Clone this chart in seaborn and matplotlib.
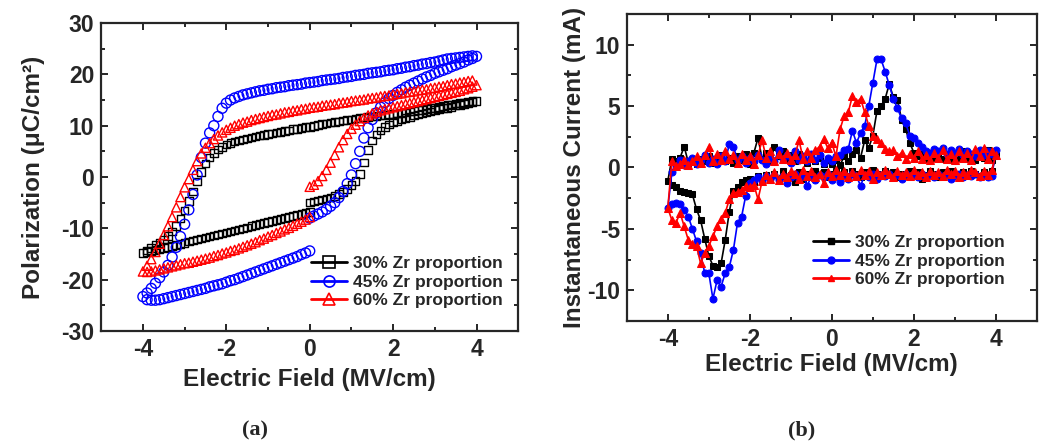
import seaborn as sns
import matplotlib.pyplot as plt
from matplotlib.lines import Line2D
from matplotlib.ticker import MultipleLocator

# barrido del campo electrico (MV/cm): 0 -> 4 -> -4 -> 0
e_up = [0.0, 0.1, 0.2, 0.3, 0.4, 0.5, 0.6, 0.7, 0.8, 0.9,
        1.0, 1.1, 1.2, 1.3, 1.4, 1.5, 1.6, 1.7, 1.8, 1.9,
        2.0, 2.1, 2.2, 2.3, 2.4, 2.5, 2.6, 2.7, 2.8, 2.9,
        3.0, 3.1, 3.2, 3.3, 3.4, 3.5, 3.6, 3.7, 3.8, 3.9,
        4.0]
e_down = [3.9, 3.8, 3.7, 3.6, 3.5, 3.4, 3.3, 3.2, 3.1, 3.0,
          2.9, 2.8, 2.7, 2.6, 2.5, 2.4, 2.3, 2.2, 2.1, 2.0,
          1.9, 1.8, 1.7, 1.6, 1.5, 1.4, 1.3, 1.2, 1.1, 1.0,
          0.9, 0.8, 0.7, 0.6, 0.5, 0.4, 0.3, 0.2, 0.1, 0.0,
          -0.1, -0.2, -0.3, -0.4, -0.5, -0.6, -0.7, -0.8, -0.9, -1.0,
          -1.1, -1.2, -1.3, -1.4, -1.5, -1.6, -1.7, -1.8, -1.9, -2.0,
          -2.1, -2.2, -2.3, -2.4, -2.5, -2.6, -2.7, -2.8, -2.9, -3.0,
          -3.1, -3.2, -3.3, -3.4, -3.5, -3.6, -3.7, -3.8, -3.9, -4.0]
e_back = [-3.9, -3.8, -3.7, -3.6, -3.5, -3.4, -3.3, -3.2, -3.1, -3.0,
          -2.9, -2.8, -2.7, -2.6, -2.5, -2.4, -2.3, -2.2, -2.1, -2.0,
          -1.9, -1.8, -1.7, -1.6, -1.5, -1.4, -1.3, -1.2, -1.1, -1.0,
          -0.9, -0.8, -0.7, -0.6, -0.5, -0.4, -0.3, -0.2, -0.1, 0.0]

# polarizacion (uC/cm2)
p30_up = [-5.0, -4.8, -4.6, -4.4, -4.2, -4.0, -3.7, -3.3, -2.9, -2.3,
          -1.6, -0.8, 0.6, 2.8, 5.3, 7.1, 8.3, 9.1, 9.7, 10.2,
          10.6, 10.9, 11.2, 11.5, 11.7, 12.0, 12.2, 12.4, 12.6, 12.8,
          13.0, 13.2, 13.4, 13.5, 13.7, 13.9, 14.0, 14.2, 14.4, 14.6,
          14.8]
p30_down = [14.8, 14.7, 14.5, 14.4, 14.3, 14.1, 14.0, 13.8, 13.7, 13.5,
            13.4, 13.3, 13.1, 13.0, 12.9, 12.8, 12.6, 12.5, 12.4, 12.3,
            12.2, 12.1, 12.0, 11.9, 11.8, 11.7, 11.6, 11.5, 11.4, 11.2,
            11.1, 11.0, 10.8, 10.7, 10.6, 10.4, 10.3, 10.1, 10.0, 9.8,
            9.7, 9.6, 9.4, 9.3, 9.1, 9.0, 8.8, 8.7, 8.5, 8.4,
            8.2, 8.1, 7.9, 7.7, 7.5, 7.3, 7.1, 6.9, 6.6, 6.3,
            5.9, 5.4, 4.7, 3.8, 2.6, 1.0, -0.9, -2.8, -4.7, -6.5,
            -8.1, -9.5, -10.6, -11.5, -12.2, -12.8, -13.3, -13.8, -14.3, -14.8]
p30_back = [-14.6, -14.4, -14.2, -14.0, -13.8, -13.6, -13.4, -13.2, -13.0, -12.8,
            -12.6, -12.4, -12.2, -12.0, -11.8, -11.6, -11.4, -11.2, -11.0, -10.8,
            -10.6, -10.4, -10.2, -10.0, -9.8, -9.6, -9.4, -9.2, -9.0, -8.8,
            -8.6, -8.4, -8.2, -8.0, -7.8, -7.6, -7.4, -7.2, -7.0, -6.8]

p45_up = [-8.0, -7.6, -7.2, -6.8, -6.3, -5.7, -5.0, -4.0, -2.8, -1.3,
          0.4, 2.6, 5.0, 7.6, 9.6, 11.2, 12.5, 13.6, 14.5, 15.3,
          15.9, 16.5, 17.0, 17.5, 17.9, 18.3, 18.7, 19.1, 19.5, 19.8,
          20.2, 20.5, 20.8, 21.1, 21.5, 21.8, 22.1, 22.4, 22.8, 23.1,
          23.5]
p45_down = [23.6, 23.5, 23.4, 23.3, 23.2, 23.1, 23.0, 22.8, 22.6, 22.4,
            22.3, 22.1, 22.0, 21.8, 21.7, 21.5, 21.4, 21.2, 21.1, 20.9,
            20.8, 20.7, 20.5, 20.4, 20.3, 20.2, 20.0, 19.9, 19.8, 19.6,
            19.5, 19.4, 19.2, 19.1, 19.0, 18.9, 18.8, 18.6, 18.5, 18.4,
            18.3, 18.1, 18.0, 17.9, 17.8, 17.6, 17.5, 17.4, 17.2, 17.1,
            16.9, 16.8, 16.6, 16.4, 16.2, 16.0, 15.7, 15.4, 15.0, 14.4,
            13.4, 11.8, 10.0, 8.6, 6.6, 3.8, 0.4, -3.4, -6.4, -9.2,
            -11.6, -13.7, -15.6, -17.2, -18.5, -19.6, -20.7, -21.7, -22.6, -23.3]
p45_back = [-23.9, -24.0, -24.0, -23.9, -23.7, -23.5, -23.3, -23.1, -22.9, -22.7,
            -22.5, -22.3, -22.1, -21.9, -21.7, -21.4, -21.2, -21.0, -20.8, -20.5,
            -20.2, -20.0, -19.7, -19.4, -19.1, -18.8, -18.5, -18.2, -17.9, -17.6,
            -17.3, -17.0, -16.7, -16.4, -16.1, -15.8, -15.5, -15.1, -14.8, -14.4]

p60_up = [-1.9, -1.5, -0.8, 0.2, 1.4, 2.8, 4.3, 5.8, 7.2, 8.4,
          9.4, 10.2, 10.9, 11.5, 12.0, 12.4, 12.7, 13.0, 13.2, 13.4,
          13.6, 13.8, 14.0, 14.2, 14.4, 14.6, 14.8, 15.0, 15.2, 15.4,
          15.6, 15.8, 16.0, 16.2, 16.4, 16.6, 16.8, 17.1, 17.3, 17.6,
          17.9]
p60_down = [18.8, 18.7, 18.5, 18.4, 18.2, 18.1, 17.9, 17.7, 17.6, 17.4,
            17.3, 17.1, 17.0, 16.9, 16.7, 16.6, 16.5, 16.3, 16.2, 16.1,
            15.9, 15.8, 15.7, 15.5, 15.4, 15.3, 15.1, 15.0, 14.9, 14.8,
            14.6, 14.5, 14.4, 14.2, 14.1, 14.0, 13.9, 13.7, 13.6, 13.5,
            13.3, 13.2, 13.0, 12.9, 12.7, 12.6, 12.4, 12.2, 12.1, 11.9,
            11.7, 11.5, 11.3, 11.1, 10.8, 10.6, 10.3, 10.0, 9.6, 9.2,
            8.7, 8.1, 7.4, 6.6, 5.7, 4.6, 3.1, 1.4, -0.4, -2.0,
            -3.9, -5.9, -7.8, -9.6, -11.3, -13.0, -14.6, -16.0, -17.3, -18.4]
p60_back = [-18.5, -18.4, -18.2, -18.0, -17.8, -17.6, -17.4, -17.2, -17.0, -16.8,
            -16.7, -16.5, -16.3, -16.1, -15.9, -15.7, -15.4, -15.2, -14.9, -14.7,
            -14.4, -14.2, -13.9, -13.6, -13.3, -13.0, -12.7, -12.3, -12.0, -11.6,
            -11.3, -10.9, -10.6, -10.2, -9.9, -9.5, -9.1, -8.7, -8.3, -7.8]

# corriente instantanea (mA)
i30_up = [0.3, 0.6, 0.2, 0.9, 0.5, 1.1, 1.4, 0.8, 2.2, 1.6,
          2.6, 4.6, 5.0, 5.6, 6.8, 5.7, 5.5, 3.9, 3.1, 2.0,
          1.2, 0.9, 1.1, 0.7, 1.0, 0.8, 1.2, 0.7, 1.0, 0.6,
          1.1, 0.8, 1.3, 0.7, 1.0, 0.6, 1.2, 0.8, 1.4, 0.6,
          1.0]
i30_down = [-0.3, -0.6, -0.4, -0.7, -0.5, -0.3, -0.6, -0.4, -0.7, -0.5,
            -0.3, -0.6, -0.4, -0.8, -0.5, -0.3, -0.6, -0.9, -0.4, -0.6,
            -0.3, -0.7, -0.5, -0.8, -0.4, -0.6, -0.3, -0.7, -0.5, -0.2,
            -0.6, -0.4, -0.8, -0.5, -0.3, -0.7, -0.4, -0.6, -0.3, -0.5,
            -0.8, -0.4, -0.6, -0.3, -0.7, -0.5, -0.9, -0.4, -1.2, -0.6,
            -0.8, -0.3, -0.9, -0.5, -1.0, -0.6, -1.1, -0.7, -1.2, -0.9,
            -1.0, -1.2, -1.6, -1.9, -3.6, -5.9, -7.8, -8.1, -8.0, -7.2,
            -5.8, -4.3, -3.4, -2.2, -2.1, -2.0, -1.9, -1.6, -1.4, -1.1]
i30_back = [0.7, 0.5, 0.8, 1.7, 0.4, 0.6, 0.3, 0.7, 0.5, 0.9,
            0.4, 0.6, 1.0, 0.5, 0.8, 0.4, 0.9, 0.6, 1.1, 0.3,
            1.2, 2.4, 0.7, 1.2, 0.5, 1.7, 0.9, 1.3, 0.6, 1.0,
            0.5, 1.1, 0.7, 0.4, 0.9, 0.5, 0.8, 0.3, 0.6, 0.4]

i45_up = [0.6, 0.9, 1.0, 1.4, 1.5, 3.0, 2.0, 2.8, 3.4, 5.0,
          6.9, 8.8, 8.8, 7.8, 6.7, 5.6, 4.8, 4.0, 3.6, 2.6,
          2.4, 2.0, 1.7, 1.3, 1.2, 1.5, 1.3, 1.6, 1.1, 1.4,
          1.2, 1.5, 1.0, 1.3, 1.1, 0.9, 1.4, 1.0, 1.3, 1.1,
          1.4]
i45_down = [-0.7, -0.8, -0.6, -0.8, -0.5, -0.7, -0.6, -0.8, -0.5, -0.7,
            -0.9, -0.6, -0.7, -0.5, -0.8, -0.6, -0.7, -0.5, -0.8, -0.6,
            -0.7, -0.5, -0.9, -0.6, -0.8, -0.5, -0.7, -0.6, -0.9, -0.5,
            -0.8, -0.6, -1.5, -0.7, -0.5, -0.9, -0.6, -1.2, -0.7, -1.0,
            -0.5, -0.8, -0.6, -1.0, -0.7, -1.5, -0.6, -0.9, -0.5, -0.8,
            -1.3, -0.7, -1.0, -0.6, -0.9, -0.7, -1.1, -0.8, -1.0, -1.3,
            -2.3, -4.0, -4.5, -6.7, -8.1, -8.6, -9.7, -9.2, -10.7, -8.6,
            -8.6, -7.0, -6.0, -5.0, -4.0, -3.5, -3.0, -2.9, -3.0, -3.3]
i45_back = [-0.4, 0.1, 0.6, 0.2, 0.5, 0.8, 0.3, 0.6, 1.0, 0.4,
            0.7, 0.3, 0.9, 0.5, 1.9, 1.7, 0.6, 0.9, 0.4, 0.8,
            0.5, 1.0, 0.6, 0.3, 0.8, 0.5, 1.4, 0.7, 1.0, 0.4,
            1.3, 0.6, 0.9, 0.5, 1.1, 0.6, 1.0, 0.4, 0.8, 0.5]

i60_up = [2.0, 0.9, 3.1, 4.2, 4.5, 5.8, 5.3, 5.6, 4.5, 3.4,
          2.6, 2.3, 2.0, 1.5, 1.3, 1.4, 0.9, 1.2, 0.7, 1.1,
          0.8, 1.3, 0.7, 1.0, 0.6, 1.2, 0.8, 1.4, 0.7, 1.1,
          0.6, 1.3, 0.8, 1.2, 0.6, 1.5, 0.9, 1.6, 0.7, 1.3,
          1.0]
i60_down = [-0.2, -0.6, -0.3, -0.7, -0.4, -0.2, -0.6, -0.4, -0.8, -0.3,
            -0.5, -0.2, -0.7, -0.4, -0.6, -0.3, -0.8, -0.4, -0.6, -0.2,
            -0.7, -0.4, -0.6, -0.3, -0.8, -0.5, -0.2, -0.6, -0.4, -0.9,
            -0.3, -0.6, -0.2, -0.7, -0.4, -0.8, -0.3, -0.6, -0.2, -0.7,
            -0.4, -1.3, -0.5, -0.8, -0.3, -0.7, -0.2, -0.9, -0.5, -0.3,
            -0.8, -0.5, -1.0, -0.4, -0.9, -0.6, -1.1, -2.6, -1.4, -1.6,
            -1.5, -1.8, -2.0, -2.1, -2.6, -3.7, -4.2, -4.8, -5.6, -6.4,
            -7.0, -7.8, -6.4, -6.2, -5.9, -4.8, -3.7, -4.5, -4.3, -3.3]
i60_back = [0.5, 0.1, 0.3, 0.6, 0.2, 0.5, 0.9, 0.4, 1.0, 1.7,
            0.5, 1.1, 0.6, 1.3, 0.7, 1.0, 0.4, 1.1, 0.6, 0.9,
            0.3, 1.0, 2.2, 0.8, 1.3, 0.5, 1.1, 0.7, 1.2, 0.6,
            1.0, 2.2, 0.7, 1.3, 0.8, 1.4, 1.7, 2.3, 1.6, 2.0]

labels = ["30% Zr proportion", "45% Zr proportion", "60% Zr proportion"]
colors = ["black", "blue", "red"]
markers = ["s", "o", "^"]

field = e_up + e_down + e_back
polarization = [p30_up + p30_down + p30_back,
                p45_up + p45_down + p45_back,
                p60_up + p60_down + p60_back]
current = [i30_up + i30_down + i30_back,
           i45_up + i45_down + i45_back,
           i60_up + i60_down + i60_back]

sns.set_style("ticks")
plt.rcParams["font.family"] = ["Liberation Sans", "DejaVu Sans"]
plt.rcParams["font.weight"] = "bold"
plt.rcParams["axes.labelweight"] = "bold"
plt.rcParams["axes.unicode_minus"] = False

fig = plt.figure(figsize=(10.49, 4.45), dpi=100)
ax1 = fig.add_axes([0.0965, 0.2562, 0.3975, 0.692])
ax2 = fig.add_axes([0.5975, 0.2787, 0.3910, 0.690])

# (a) lazos P-E con marcadores abiertos
sizes_a = [30, 52, 44]
for pol, c, m, s in zip(polarization, colors, markers, sizes_a):
    sns.scatterplot(x=field, y=pol, ax=ax1, marker=m, s=s, facecolor="none",
                    edgecolor=c, linewidth=1.0, legend=False)

# (b) corriente instantanea con lineas y marcadores llenos
sizes_b = [3.8, 5.0, 5.4]
for cur, c, m, ms in zip(current, colors, markers, sizes_b):
    sns.lineplot(x=field, y=cur, ax=ax2, sort=False, estimator=None, color=c,
                 marker=m, markersize=ms, markeredgecolor=c, linewidth=1.2,
                 legend=False)


def estilo(ax, ymaj, ymin):
    ax.set_xlim(-5, 5)
    ax.xaxis.set_major_locator(MultipleLocator(2))
    ax.xaxis.set_minor_locator(MultipleLocator(1))
    ax.yaxis.set_major_locator(MultipleLocator(ymaj))
    ax.yaxis.set_minor_locator(MultipleLocator(ymin))
    ax.tick_params(which="both", direction="in", width=1.4, top=True, right=True,
                   labelsize=16.5)
    ax.tick_params(which="major", length=5, pad=5)
    ax.tick_params(which="minor", length=3)
    for sp in ax.spines.values():
        sp.set_visible(True)
        sp.set_linewidth(1.6)


estilo(ax1, 10, 5)
ax1.set_ylim(-30, 30)
estilo(ax2, 5, 2.5)
ax2.set_ylim(-12.5, 12.5)

ax1.set_xlabel("Electric Field (MV/cm)", fontsize=17.5, fontweight="bold")
ax1.set_ylabel("Polarization (μC/cm²)", fontsize=17.5, fontweight="bold")
ax1.xaxis.set_label_coords(0.5, -0.12)
ax1.yaxis.set_label_coords(-0.136, 0.5)
ax2.set_xlabel("Electric Field (MV/cm)", fontsize=17.5, fontweight="bold")
ax2.set_ylabel("Instantaneous Current (mA)", fontsize=17.5, fontweight="bold")
ax2.xaxis.set_label_coords(0.5, -0.104)
ax2.yaxis.set_label_coords(-0.1, 0.5)

handles_a = [Line2D([], [], color=c, lw=2, marker=m, markersize=8,
                    markerfacecolor="none", markeredgecolor=c, markeredgewidth=1.2)
             for c, m in zip(colors, markers)]
ax1.legend(handles_a, labels, loc="upper left", bbox_to_anchor=(311 / 1049, 1 - 256 / 445),
           bbox_transform=fig.transFigure, frameon=False, prop={"weight": "bold", "size": 12.5},
           handlelength=2.1, handletextpad=0.3, labelspacing=0.2, borderpad=0, borderaxespad=0)

handles_b = [Line2D([], [], color=c, lw=2, marker=m, markersize=5, markeredgecolor=c)
             for c, m in zip(colors, markers)]
ax2.legend(handles_b, labels, loc="upper left", bbox_to_anchor=(813 / 1049, 1 - 235 / 445),
           bbox_transform=fig.transFigure, frameon=False, prop={"weight": "bold", "size": 12.5},
           handlelength=2.1, handletextpad=0.3, labelspacing=0.2, borderpad=0, borderaxespad=0)

fig.text(255 / 1049, 1 - 430 / 445, "(a)", family=["Liberation Serif", "DejaVu Serif"],
         fontsize=16, fontweight="bold", ha="center", va="center")
fig.text(802 / 1049, 1 - 430 / 445, "(b)", family=["Liberation Serif", "DejaVu Serif"],
         fontsize=16, fontweight="bold", ha="center", va="center")

fig.savefig("out.png", dpi=100)
